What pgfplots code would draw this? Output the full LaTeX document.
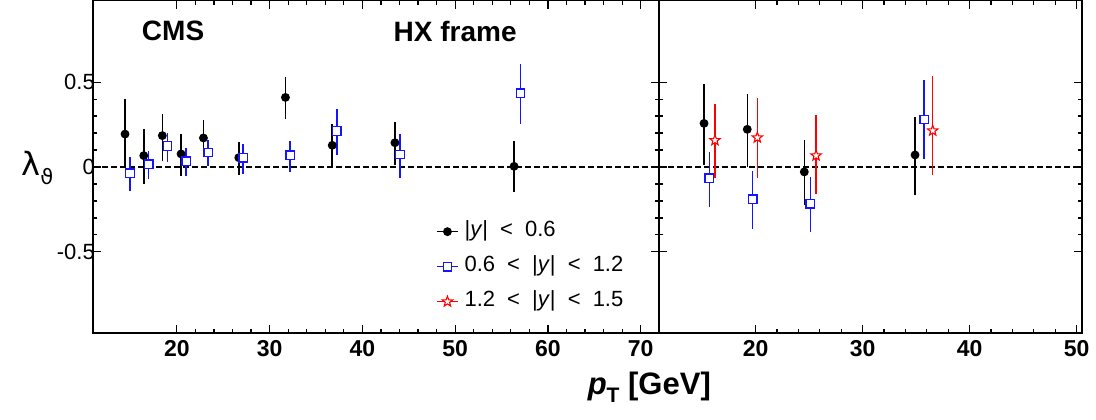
\documentclass[border=0pt]{standalone}
\usepackage{pgfplots}
\pgfplotsset{compat=1.18}
\usepackage{pgfplotstable}
\usepackage{fontspec}
\setmainfont{Liberation Sans}
\newfontfamily\dejavu{DejaVu Sans}

\pgfdeclareplotmark{ostar}{%
  \pgfpathmoveto{\pgfpointpolar{90}{\pgfplotmarksize}}%
  \pgfpathlineto{\pgfpointpolar{126}{0.42\pgfplotmarksize}}%
  \pgfpathlineto{\pgfpointpolar{162}{\pgfplotmarksize}}%
  \pgfpathlineto{\pgfpointpolar{198}{0.42\pgfplotmarksize}}%
  \pgfpathlineto{\pgfpointpolar{234}{\pgfplotmarksize}}%
  \pgfpathlineto{\pgfpointpolar{270}{0.42\pgfplotmarksize}}%
  \pgfpathlineto{\pgfpointpolar{306}{\pgfplotmarksize}}%
  \pgfpathlineto{\pgfpointpolar{342}{0.42\pgfplotmarksize}}%
  \pgfpathlineto{\pgfpointpolar{18}{\pgfplotmarksize}}%
  \pgfpathlineto{\pgfpointpolar{54}{0.42\pgfplotmarksize}}%
  \pgfpathclose
  \pgfusepathqfillstroke
}

% left panel
\pgfplotstableread{
x y ep em
14.42 0.194 0.208 0.194
16.44 0.067 0.157 0.169
18.44 0.185 0.129 0.150
20.46 0.077 0.115 0.128
22.87 0.171 0.104 0.112
26.68 0.055 0.092 0.104
31.71 0.410 0.118 0.125
36.75 0.128 0.125 0.128
43.51 0.143 0.124 0.133
56.35 0.004 0.151 0.151
}\LblackA
\pgfplotstableread{
x y ep em
14.96 -0.037 0.096 0.104
16.97 0.016 0.078 0.088
18.99 0.124 0.078 0.092
21.00 0.035 0.079 0.088
23.37 0.086 0.071 0.080
27.15 0.055 0.080 0.094
32.22 0.069 0.086 0.098
37.25 0.212 0.127 0.139
44.05 0.073 0.121 0.138
57.03 0.435 0.173 0.180
}\LblueA
% right panel
\pgfplotstableread{
x y ep em
15.18 0.257 0.233 0.245
19.22 0.222 0.206 0.222
24.55 -0.029 0.186 0.192
34.90 0.071 0.223 0.234
}\RblackA
\pgfplotstableread{
x y ep em
15.67 -0.066 0.154 0.169
19.73 -0.190 0.167 0.173
25.11 -0.217 0.158 0.165
35.74 0.280 0.230 0.231
}\RblueA
\pgfplotstableread{
x y ep em
16.20 0.157 0.212 0.220
20.16 0.173 0.235 0.236
25.65 0.067 0.241 0.224
36.55 0.214 0.325 0.263
}\RredA

\definecolor{myblue}{RGB}{20,20,255}
\definecolor{myred}{RGB}{255,0,0}

\newcommand{\gap}{\hspace{0.55em}}

\pgfplotsset{
  common/.style={
    scale only axis, height=332.6pt,
    ymin=-0.98, ymax=0.98,
    ytick={-0.5,0,0.5}, minor y tick num=4,
    minor x tick num=4,
    axis line style={line width=1.6pt},
    major tick length=8pt, minor tick length=4pt,
    every tick/.style={line width=1.2pt, black},
    /pgf/number format/assume math mode=true,
    xticklabel style={font=\bfseries\fontsize{23}{23}\selectfont, yshift=-4pt},
    yticklabel style={font=\fontsize{22}{22}\selectfont, xshift=5pt},
    legend image code/.code={%
      \draw[#1,mark=none,line width=1.2pt] (0pt,0pt) -- (21pt,0pt);
      \draw[#1] plot coordinates {(10.5pt,0pt)};},
  },
  sblack/.style={black, line width=1.2pt, only marks, mark=*, mark size=3.8pt,
    error bars/.cd, y dir=both, y explicit, error mark=none,
    error bar style={line width=1.5pt, black}},
  sblue/.style={myblue, line width=1.3pt, only marks, mark=square*, mark size=4.2pt,
    mark options={fill=white},
    error bars/.cd, y dir=both, y explicit, error mark=none,
    error bar style={line width=1.5pt, myblue}},
  sred/.style={myred, line width=1.1pt, only marks, mark=ostar, mark size=5.4pt,
    mark options={fill=white},
    error bars/.cd, y dir=both, y explicit, error mark=none,
    error bar style={line width=1.5pt, myred}},
}

\begin{document}
\begin{tikzpicture}
\useasboundingbox (-93.3pt,-86.7pt) rectangle (1002.7pt,333.3pt);
\begin{axis}[common,
  at={(0pt,0pt)}, anchor=south west,
  width=566pt, xmin=11, xmax=72,
  xtick={20,30,40,50,60,70},
  legend style={at={(axis cs:47.95,-0.315)}, anchor=north west, draw=none, fill=none,
    font=\fontsize{22}{22}\selectfont, inner sep=0pt, row sep=13pt,
    nodes={inner sep=1pt, text height=15pt, text depth=5pt},
    /tikz/every odd column/.append style={column sep=5pt}},
  legend cell align=left,
]
\addplot[black, dashed, dash pattern=on 6pt off 3pt, line width=1.2pt, forget plot] coordinates {(11,0) (72,0)};
\addplot[sblack] table[x=x, y=y, y error plus=ep, y error minus=em] {\LblackA};
\addlegendentry{|\textit{y}|\gap<\gap0.6}
\addplot[sblue] table[x=x, y=y, y error plus=ep, y error minus=em] {\LblueA};
\addlegendentry{0.6\gap<\gap|\textit{y}|\gap<\gap1.2}
\addlegendimage{sred}
\addlegendentry{1.2\gap<\gap|\textit{y}|\gap<\gap1.5}
\node[font=\bfseries\fontsize{28}{28}\selectfont] at (axis cs:19.6,0.80) {CMS};
\node[font=\bfseries\fontsize{28}{28}\selectfont] at (axis cs:50.0,0.80) {HX frame};
\end{axis}
\begin{axis}[common,
  at={(566pt,0pt)}, anchor=south west,
  width=422.7pt, xmin=11, xmax=50.5,
  xtick={20,30,40,50},
  yticklabels={},
]
\addplot[black, dashed, dash pattern=on 6pt off 3pt, line width=1.2pt, forget plot] coordinates {(11,0) (50.5,0)};
\addplot[sblack] table[x=x, y=y, y error plus=ep, y error minus=em] {\RblackA};
\addplot[sblue] table[x=x, y=y, y error plus=ep, y error minus=em] {\RblueA};
\addplot[sred] table[x=x, y=y, y error plus=ep, y error minus=em] {\RredA};
\end{axis}
\node[font=\fontsize{32}{32}\selectfont] at (-56pt,165pt) {{\dejavu λ}\raisebox{-9pt}{\fontsize{21}{21}\selectfont\dejavu ϑ}};
\node[font=\bfseries\fontsize{31}{31}\selectfont] at (556pt,-54pt) {\textit{p}\raisebox{-8pt}{\fontsize{21}{21}\selectfont T} [GeV]};
\end{tikzpicture}
\end{document}
